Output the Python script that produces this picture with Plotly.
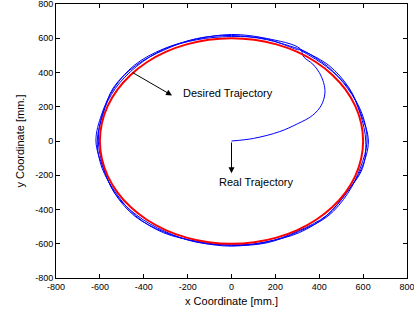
import plotly.graph_objects as go
import numpy as np

# Desired trajectory (circle, radius 600 mm) read at 10 degree steps
desired_x = [600, 591, 564, 520, 460, 386, 300, 205, 104, 0, -104, -205, -300, -386, -460, -520, -564, -591,
             -600, -591, -564, -520, -460, -386, -300, -205, -104, 0, 104, 205, 300, 386, 460, 520, 564, 591, 600]
desired_y = [0, 104, 205, 300, 386, 460, 520, 564, 591, 600, 591, 564, 520, 460, 386, 300, 205, 104,
             0, -104, -205, -300, -386, -460, -520, -564, -591, -600, -591, -564, -520, -460, -386, -300, -205, -104, 0]

# Real trajectory: start-up path from origin to the circle
start_x = [0, 100, 220, 300, 370, 410, 426, 420, 400, 370, 330]
start_y = [0, 15, 55, 100, 150, 210, 280, 340, 400, 450, 490]

# Real trajectory loops: radius [mm] read at each angle [deg]
loop_angles = [60, 75, 90, 105, 120, 135, 150, 165, 180, 195, 210, 225, 240, 255, 270, 285, 300, 315, 330, 345,
               360, 375, 390, 405, 420]
loop1_r = [624, 620, 622, 616, 621, 626, 618, 612, 618, 606, 614, 622, 614, 610, 614, 609, 618, 615, 606, 614,
           624, 611, 619, 626, 620]
loop2_r = [620, 613, 616, 619, 614, 620, 622, 606, 612, 611, 608, 618, 619, 606, 610, 616, 611, 621, 612, 608,
           618, 616, 612, 618, 619]
loop3_r = [615, 617, 610, 612, 618, 614, 612, 609, 607, 604, 613, 612, 609, 612, 606, 612, 607, 614, 604, 618,
           612, 608, 616, 613, 617]

ticks = [-800, -600, -400, -200, 0, 200, 400, 600, 800]
tick_labels = ["-800", "-600", "-400", "-200", "0", "200", "400", "600", "800"]

real_x = list(start_x)
real_y = list(start_y)
for radii in (loop1_r, loop2_r, loop3_r):
    th = np.radians(loop_angles)
    real_x += list(np.array(radii) * np.cos(th))
    real_y += list(np.array(radii) * np.sin(th))

fig = go.Figure()
fig.add_trace(go.Scatter(x=real_x, y=real_y, mode="lines", line=dict(color="#0000ff", width=1, shape="spline"),
                         showlegend=False, hoverinfo="skip"))
fig.add_trace(go.Scatter(x=desired_x, y=desired_y, mode="lines", line=dict(color="#ff0000", width=2, shape="spline"),
                         showlegend=False, hoverinfo="skip"))

font = "Liberation Sans, Arial, sans-serif"
fig.add_annotation(x=-271, y=266, ax=-458, ay=405, axref="x", ayref="y", xref="x", yref="y", text="",
                   showarrow=True, arrowhead=2, arrowsize=1.2, arrowwidth=1, arrowcolor="black")
fig.add_annotation(x=-16, y=283, text="Desired Trajectory", showarrow=False,
                   font=dict(family=font, size=11, color="black"))
fig.add_annotation(x=0, y=-188, ax=0, ay=0, axref="x", ayref="y", xref="x", yref="y", text="",
                   showarrow=True, arrowhead=2, arrowsize=1.2, arrowwidth=1, arrowcolor="black")
fig.add_annotation(x=113, y=-240, text="Real Trajectory", showarrow=False,
                   font=dict(family=font, size=11, color="black"))

axis_common = dict(range=[-800, 800], tickvals=ticks, ticktext=tick_labels, ticks="inside", ticklen=4,
                   tickcolor="black", showline=True, linecolor="black", linewidth=1, mirror="ticks",
                   showgrid=False, zeroline=False, automargin=False, ticklabeloverflow="allow",
                   tickfont=dict(family=font, size=9, color="black"))
fig.update_xaxes(title=dict(text="x Coordinate [mm.]", font=dict(family=font, size=11, color="black"), standoff=6),
                 **axis_common)
fig.update_yaxes(title=dict(text="y Coordinate [mm.]", font=dict(family=font, size=11, color="black"), standoff=8),
                 **axis_common)
fig.update_layout(width=414, height=315, margin=dict(l=56, r=7, t=4, b=37),
                  plot_bgcolor="white", paper_bgcolor="white")
fig.write_html("out.html", config={"displayModeBar": False},
               post_script="document.body.style.margin='0';")
